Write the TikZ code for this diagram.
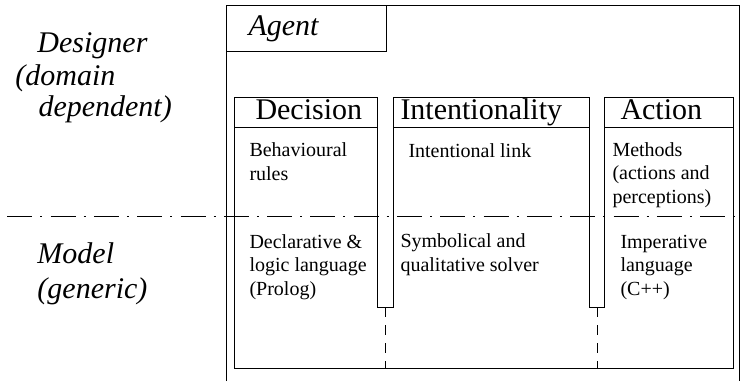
\documentclass[tikz,border=0pt]{standalone}
\usepackage{fontspec}
\setmainfont{Liberation Serif}
\usetikzlibrary{positioning}
\tikzset{
  capa/.style={font=\fontsize{30}{34}\selectfont\itshape, anchor=base west, inner sep=0pt},
  cabecera/.style={font=\fontsize{30}{34}\selectfont, anchor=base west, inner sep=0pt},
  texto/.style={font=\fontsize{20}{23.5}\selectfont, anchor=base west, align=left, inner sep=0pt},
  frontera/.style={line width=1pt, dash pattern=on 25pt off 8pt on 2pt off 8.3pt, dash phase=36pt},
  enlace/.style={line width=1pt, dash pattern=on 10pt off 8pt},
}
\begin{document}
\begin{tikzpicture}[x=1pt,y=-1pt,line width=1pt]
    \useasboundingbox (0,0) rectangle (740,381);
    %CAPAS:
     \node[capa] (dis1) at (37,52) {Designer};
     \node[capa] (dis2) at (15,85) {(domain};
     \node[capa] (dis3) at (38,116) {dependent)};
     \node[capa] (mod1) at (37,263) {Model};
     \node[capa] (mod2) at (37,298) {(generic)};
     %frontera------------------------
     \draw[frontera] (0,216) -- (740,216);
     %---------------------------------
    %AGENTE:
     \draw (226,381) -- (226,5) -- (739,5) -- (739,381);
     \draw (226,5) rectangle (386,51);
     \node[capa] (agente) at (248,35) {Agent};
    %COLUMNAS:
     \draw (377,97) -- (234,97) -- (234,368) -- (733,368) -- (733,97) -- (604,97)
        -- (604,307) -- (589,307) -- (589,97) -- (393,97) -- (393,307) -- (377,307) -- cycle;
     \draw (234,127) -- (377,127);
     \draw (393,127) -- (589,127);
     \draw (604,127) -- (733,127);
     \draw[enlace] (385,307) -- (385,368);
     \draw[enlace] (597,307) -- (597,368);
     %DECISION: (base = ultima linea)
     \node[cabecera] (decision) at (255,119) {Decision};
     \node[texto] (reglas) at (249,180) {Behavioural\\rules};
     \node[texto] (prolog) at (249,295) {Declarative \&\\logic language\\(Prolog)};
     %INTENCIONALIDAD:
     \node[cabecera] (intencion) at (400,119) {Intentionality};
     \node[texto] (vinculo) at (408,157) {Intentional link};
     \node[texto] (solver) at (400,271) {Symbolical and\\qualitative solver};
     %ACCION:
     \node[cabecera] (accion) at (620,119) {Action};
     \node[texto] (metodos) at (612,203) {Methods\\(actions and\\perceptions)};
     \node[texto] (cpp) at (620,295) {Imperative\\language\\(C++)};
    \end{tikzpicture}
\end{document}
